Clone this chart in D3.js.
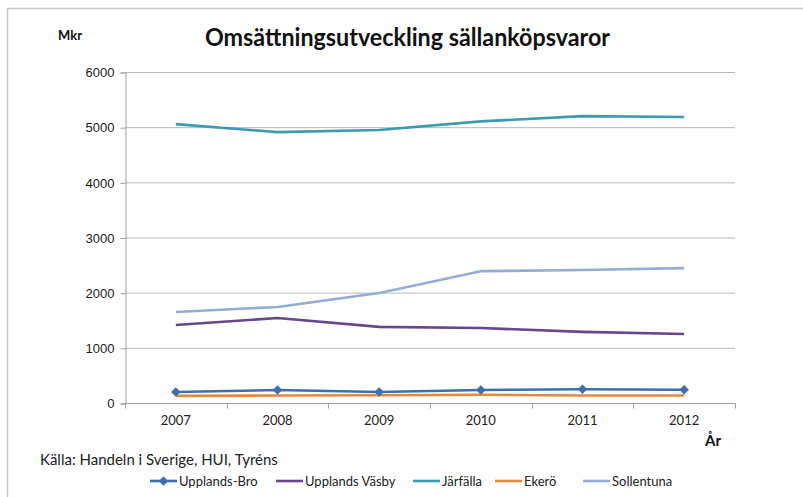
<!DOCTYPE html>
<html>
<head>
<meta charset="utf-8">
<script src="https://cdn.jsdelivr.net/npm/d3@7"></script>
<style>
  body { margin: 0; background: #fff; }
  svg { font-family: Lato, "Open Sans", sans-serif; }
</style>
</head>
<body>
<script>
// chart data
var years = ["2007", "2008", "2009", "2010", "2011", "2012"];
var yTicks = [0, 1000, 2000, 3000, 4000, 5000, 6000];
var upplandsBro = [200, 235, 200, 235, 250, 240];
var upplandsVasby = [1415, 1540, 1380, 1360, 1290, 1250];
var jarfalla = [5055, 4910, 4950, 5105, 5200, 5185];
var ekero = [130, 135, 140, 150, 135, 135];
var sollentuna = [1650, 1740, 1995, 2390, 2410, 2445];

var series = [
    {name: "Upplands-Bro", values: upplandsBro, color: "#3d6fb0", marker: true},
    {name: "Upplands Väsby", values: upplandsVasby, color: "#6a4690"},
    {name: "Järfälla", values: jarfalla, color: "#3a9bb3"},
    {name: "Ekerö", values: ekero, color: "#e8883a"},
    {name: "Sollentuna", values: sollentuna, color: "#95acd6"}
];

var w = 803, h = 497;
var margin = {left: 125, right: 68, top: 72, bottom: 94};

var svg = d3.select("body").append("svg")
    .attr("width", w)
    .attr("height", h);

// outer frame (only top and left visible)
svg.append("path")
    .attr("d", "M7.5,497 L7.5,8.5 L803,8.5")
    .attr("fill", "none")
    .attr("stroke", "#c8c8c8")
    .attr("stroke-width", 1.5);

var x = d3.scaleBand()
    .domain(years)
    .range([margin.left, w - margin.right]);

var y = d3.scaleLinear()
    .domain([0, 6000])
    .range([h - margin.bottom, margin.top]);

// gridlines
svg.append("g")
    .selectAll("line")
    .data(yTicks.slice(1))
    .enter()
    .append("line")
    .attr("x1", margin.left)
    .attr("x2", w - margin.right)
    .attr("y1", function(d){ return y(d) + 0.5; })
    .attr("y2", function(d){ return y(d) + 0.5; })
    .attr("stroke", "#b8b8b8")
    .attr("stroke-width", 1);

// y axis
var yAxis = svg.append("g")
    .attr("transform", "translate(" + (margin.left + 0.5) + ",0.5)")
    .call(d3.axisLeft(y).tickValues(yTicks).tickSize(5).tickPadding(6).tickFormat(d3.format("d")));
yAxis.select(".domain").attr("stroke", "#a0a0a0");
yAxis.selectAll(".tick line").attr("stroke", "#a0a0a0");
yAxis.selectAll("text").attr("font-size", 13).attr("fill", "#222");

// x axis with ticks between categories
var xAxis = svg.append("g")
    .attr("transform", "translate(0," + (y(0) + 0.5) + ")");
xAxis.append("line")
    .attr("x1", margin.left)
    .attr("x2", w - margin.right)
    .attr("stroke", "#a0a0a0");
var bounds = years.map(function(d){ return x(d); }).concat([x(years[years.length - 1]) + x.bandwidth()]);
xAxis.selectAll(".xt")
    .data(bounds)
    .enter()
    .append("line")
    .attr("class", "xt")
    .attr("x1", function(d){ return Math.round(d) + 0.5; })
    .attr("x2", function(d){ return Math.round(d) + 0.5; })
    .attr("y1", 0)
    .attr("y2", 5)
    .attr("stroke", "#a0a0a0");
xAxis.selectAll(".xl")
    .data(years)
    .enter()
    .append("text")
    .attr("class", "xl")
    .attr("x", function(d){ return x(d) + x.bandwidth() / 2; })
    .attr("y", 21)
    .attr("text-anchor", "middle")
    .attr("font-size", 13)
    .attr("fill", "#222")
    .text(function(d){ return d; });

// lines
var line = d3.line()
    .x(function(d, i){ return x(years[i]) + x.bandwidth() / 2; })
    .y(function(d){ return y(d); });

var drawOrder = [series[4], series[3], series[2], series[1], series[0]];
svg.selectAll(".series")
    .data(drawOrder)
    .enter()
    .append("path")
    .attr("class", "series")
    .attr("d", function(d){ return line(d.values); })
    .attr("fill", "none")
    .attr("stroke", function(d){ return d.color; })
    .attr("stroke-width", 2.6)
    .attr("stroke-linejoin", "round");

// diamond markers for Upplands-Bro (rotated squares)
var diamond = d3.symbol().type(d3.symbolSquare).size(46);
svg.selectAll(".marker")
    .data(upplandsBro)
    .enter()
    .append("path")
    .attr("class", "marker")
    .attr("d", diamond)
    .attr("transform", function(d, i){
        return "translate(" + (x(years[i]) + x.bandwidth() / 2) + "," + y(d) + ") rotate(45)";
    })
    .attr("fill", "#3d6fb0");

// title and labels
svg.append("text")
    .attr("x", 205)
    .attr("y", 46)
    .attr("font-size", 25)
    .attr("font-weight", "bold")
    .attr("fill", "#111")
    .attr("textLength", 405)
    .attr("lengthAdjust", "spacingAndGlyphs")
    .text("Omsättningsutveckling sällanköpsvaror");

svg.append("text")
    .attr("x", 58)
    .attr("y", 40)
    .attr("font-size", 13)
    .attr("font-weight", "bold")
    .attr("fill", "#111")
    .text("Mkr");

svg.append("text")
    .attr("x", 705)
    .attr("y", 446)
    .attr("font-size", 15)
    .attr("font-weight", "bold")
    .attr("fill", "#111")
    .text("År");

svg.append("text")
    .attr("x", 40)
    .attr("y", 465)
    .attr("font-size", 15)
    .attr("fill", "#222")
    .text("Källa: Handeln i Sverige, HUI, Tyréns");

// legend
var legendX = [150, 276, 413, 495, 583];
var legend = svg.selectAll(".legend")
    .data(series)
    .enter()
    .append("g")
    .attr("class", "legend")
    .attr("transform", function(d, i){ return "translate(" + legendX[i] + ",481)"; });
legend.append("line")
    .attr("x1", 0)
    .attr("x2", 27)
    .attr("stroke", function(d){ return d.color; })
    .attr("stroke-width", 2.6);
legend.filter(function(d){ return d.marker; })
    .append("path")
    .attr("d", diamond)
    .attr("transform", "translate(13.5,0) rotate(45)")
    .attr("fill", "#3d6fb0");
legend.append("text")
    .attr("x", 29)
    .attr("y", 5)
    .attr("font-size", 13)
    .attr("fill", "#222")
    .text(function(d){ return d.name; });
</script>
</body>
</html>
